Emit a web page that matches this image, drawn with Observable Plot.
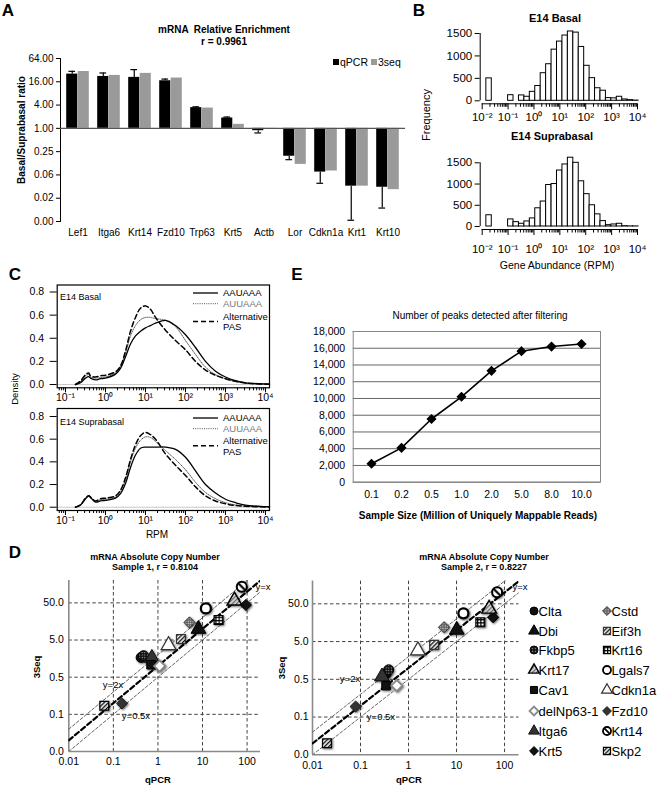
<!DOCTYPE html>
<html><head><meta charset="utf-8">
<script src="https://cdn.jsdelivr.net/npm/d3@7"></script>
<script src="https://cdn.jsdelivr.net/npm/@observablehq/plot@0.6"></script>
<style>
body{margin:0;background:#fff;}
#root{position:relative;width:670px;height:787px;overflow:hidden;font-family:"Liberation Sans",Arial,Helvetica,sans-serif;color:#000;background:#fff;}
.panel{position:absolute;}
.panel svg{display:block;}
.t{position:absolute;white-space:pre;transform:translate(-50%,-50%);line-height:1;}
.l{position:absolute;white-space:pre;transform:translate(0,-50%);line-height:1;}
.rot{position:absolute;white-space:pre;transform:translate(-50%,-50%) rotate(-90deg);line-height:1;}
</style></head><body>
<div id="root">
<svg width="0" height="0" style="position:absolute;left:0;top:0">
<defs>
<pattern id="hatch" width="3" height="3" patternUnits="userSpaceOnUse" patternTransform="rotate(45)"><rect width="3" height="3" fill="#fff"/><rect width="1.4" height="3" fill="#111"/></pattern>
<pattern id="hatchG" width="3" height="3" patternUnits="userSpaceOnUse" patternTransform="rotate(45)"><rect width="3" height="3" fill="#ddd"/><rect width="1.3" height="3" fill="#666"/></pattern>
<pattern id="grid" width="3.2" height="3.2" patternUnits="userSpaceOnUse"><rect width="3.2" height="3.2" fill="#fff"/><path d="M0 0.6H3.2M0.6 0V3.2" stroke="#000" stroke-width="1.2"/></pattern>
<pattern id="dots" width="2.6" height="2.6" patternUnits="userSpaceOnUse"><rect width="2.6" height="2.6" fill="#111"/><circle cx="1.3" cy="1.3" r="0.6" fill="#bbb"/></pattern>
<pattern id="dotsG" width="2.4" height="2.4" patternUnits="userSpaceOnUse"><rect width="2.4" height="2.4" fill="#666"/><circle cx="1.2" cy="1.2" r="0.6" fill="#eee"/></pattern>
<pattern id="slash" patternUnits="objectBoundingBox" patternContentUnits="objectBoundingBox" width="1" height="1"><rect width="1" height="1" fill="#fff"/><path d="M0.15 0.15L0.85 0.85" stroke="#000" stroke-width="0.22"/></pattern>
</defs></svg>
</div>
<script>
// ================= DATA =================
// Panel A: mRNA relative enrichment (Basal/Suprabasal ratio)
const genesA = ["Lef1","Itga6","Krt14","Fzd10","Trp63","Krt5","Actb","Lor","Cdkn1a","Krt1","Krt10"];
const qpcrA  = [25.3, 22, 20.8, 17, 3.43, 1.85, 0.87, 0.19, 0.074, 0.032, 0.030];
const seqA   = [29.5, 23.4, 26.4, 20, 3.35, 1.27, 0.94, 0.117, 0.079, 0.032, 0.026];
const qpcrErrEndA = [29.8, 27, 33, 18.8, 3.6, 1.96, 0.76, 0.155, 0.038, 0.0042, 0.0087];
const ticksA = [64, 16, 4, 1, 0.25, 0.0625, 0.015625, 0.00390625];

// Panel B: histograms of gene abundance (log10 RPM bin lower edges)
const binLo = [-1.84,-1.63,-1.42,-1.21,-1.00,-0.79,-0.58,-0.37,-0.16,0.05,0.26,0.47,0.68,0.89,1.10,1.31,1.52,1.73,1.94,2.15,2.36,2.57,2.78,2.99,3.20,3.41,3.62,3.83];
const binWidth = 0.21;
const basalCounts = [500,0,0,0,125,0,120,90,200,330,615,815,1140,1320,1455,1545,1520,1200,780,505,280,225,60,55,90,30,15,5];
const supraCounts = [265,0,0,0,167,103,64,119,190,429,588,977,1000,1318,1461,1620,1500,1064,762,500,286,127,32,48,64,8,3,2];
const decadesB = [0.01,0.1,1,10,100,1000,10000];
const yTicksB = [0,500,1000,1500];

// Panel C: density of RPM by PAS type (x as log10 RPM)
const logRPM = [-0.75,-0.625,-0.5,-0.42,-0.375,-0.25,-0.125,0,0.25,0.375,0.5,0.625,0.75,0.875,1.0,1.125,1.25,1.5,1.75,2.0,2.25,2.5,2.75,3.0,3.25,3.5,4.0,4.1];
const basalAAUAAA = [0,0.015,0.055,0.068,0.055,0.04,0.05,0.055,0.09,0.14,0.24,0.35,0.42,0.46,0.49,0.51,0.53,0.555,0.51,0.43,0.32,0.2,0.115,0.065,0.033,0.015,0.004,0.003];
const basalAUUAAA = [0,0.025,0.075,0.085,0.065,0.055,0.06,0.065,0.1,0.16,0.27,0.42,0.51,0.56,0.58,0.58,0.57,0.555,0.5,0.38,0.26,0.15,0.085,0.05,0.025,0.012,0.003,0.002];
const basalAltPAS  = [0,0.03,0.085,0.1,0.075,0.065,0.075,0.08,0.11,0.16,0.29,0.46,0.58,0.66,0.68,0.65,0.58,0.47,0.38,0.3,0.2,0.125,0.08,0.05,0.028,0.014,0.004,0.003];
const supraAAUAAA = [0,0.02,0.075,0.1,0.085,0.045,0.055,0.06,0.08,0.12,0.21,0.35,0.46,0.52,0.53,0.53,0.53,0.53,0.51,0.44,0.32,0.2,0.125,0.07,0.04,0.018,0.005,0.004];
const supraAUUAAA = [0,0.02,0.08,0.1,0.09,0.05,0.065,0.07,0.09,0.14,0.24,0.4,0.52,0.59,0.62,0.615,0.58,0.5,0.42,0.33,0.22,0.13,0.075,0.04,0.02,0.01,0.003,0.002];
const supraAltPAS  = [0,0.02,0.08,0.1,0.09,0.055,0.075,0.08,0.1,0.15,0.26,0.42,0.55,0.63,0.66,0.64,0.6,0.47,0.37,0.28,0.18,0.1,0.055,0.03,0.015,0.008,0.002,0.002];
const decadesC = [0.1,1,10,100,1000,10000];
const yTicksC = [0,0.2,0.4,0.6,0.8];

// Panel E: peaks detected vs sample size
const sampleSize = ["0.1","0.2","0.5","1.0","2.0","5.0","8.0","10.0"];
const peaks = [2200,4100,7550,10200,13300,15650,16200,16500];
const yTicksE = [0,2000,4000,6000,8000,10000,12000,14000,16000,18000];

// Panel D: absolute copy number, qPCR vs 3Seq
const genesD = ["Clta","Dbi","Fkbp5","Krt17","Cav1","delNp63-1","Itga6","Krt5","Cstd","Eif3h","Krt16","Lgals7","Cdkn1a","Fzd10","Krt14","Skp2"];
const s1qPCR = [0.42,8.1,0.475,52,0.70,1.09,0.73,94,5.1,3.28,22.9,11.9,1.73,0.156,76,0.0625];
const s1Seq  = [1.7,9.9,1.89,57,1.08,1.0,1.64,44,14.9,5.3,17.3,35.5,3.6,0.098,136,0.085];
const s2qPCR = [0.34,10.1,0.385,47.6,0.34,0.57,0.28,57.8,5.5,3.41,31.3,13.9,1.57,0.079,70,0.020];
const s2Seq  = [0.70,10.2,0.89,36.7,0.34,0.34,0.59,22,12.0,4.09,16.2,28,2.89,0.095,101,0.0101];
const xTicksD = [0.01,0.1,1,10,100];
const yTicksD = [0.005,0.05,0.5,5,50];
const refSlopes = [2,1,0.5];

// ================= HELPERS =================
const root = document.getElementById("root");
const FONT = '"Liberation Sans", Arial, Helvetica, sans-serif';
const st = fs => ({fontFamily: FONT, fontSize: fs, background: "transparent", overflow: "visible", color: "#000", maxWidth: "none"});
function place(svg, left, top, w) {
  const d = document.createElement("div");
  d.className = "panel";
  d.style.left = left + "px"; d.style.top = top + "px"; d.style.width = w + "px";
  d.appendChild(svg); root.appendChild(d); return svg;
}
function label(text, x, y, o = {}) {
  const d = document.createElement("div");
  d.className = o.cls || "t";
  d.textContent = text;
  d.style.left = x + "px"; d.style.top = y + "px";
  d.style.fontSize = (o.size || 10) + "px";
  if (o.bold) d.style.fontWeight = "bold";
  if (o.color) d.style.color = o.color;
  root.appendChild(d);
  return d;
}
const supMap = {"-":"⁻","0":"⁰","1":"¹","2":"²","3":"³","4":"⁴"};
const supFmt = d => "10" + String(Math.round(Math.log10(d))).split("").map(c => supMap[c]).join("");
function minorTicks(lo, hi, dmin, dmax) {
  const out = [];
  for (let k = lo; k < hi; k++) for (let m = 2; m <= 9; m++) { const v = m * 10 ** k; if (v > dmin && v < dmax) out.push(v); }
  return out;
}

// ================= PANEL A =================
const rowsA = genesA.map((g, i) => ({gene: g, qpcr: qpcrA[i], seq: seqA[i], err: qpcrErrEndA[i]}));
place(Plot.plot({
  width: 420, height: 245, marginLeft: 60, marginRight: 15, marginTop: 58, marginBottom: 24,
  style: st("10px"),
  x: {type: "band", domain: genesA, padding: 0, label: null, tickSize: 0, tickPadding: 7},
  y: {type: "log", base: 2, domain: [ticksA[ticksA.length - 1], ticksA[0]], ticks: ticksA, tickFormat: d3.format(".2f"), label: null, line: true, tickSize: 4, tickPadding: 3},
  marks: [
    Plot.barY(rowsA, {x: "gene", y1: 1, y2: "qpcr", fill: "#000", insetLeft: 4.2, insetRight: 15.7}),
    Plot.barY(rowsA, {x: "gene", y1: 1, y2: "seq", fill: "#9a9a9a", insetLeft: 15.7, insetRight: 4.2}),
    Plot.ruleX(rowsA, {x: "gene", y1: "qpcr", y2: "err", dx: -5.75, stroke: "#000", strokeWidth: 1.2}),
    Plot.tickY(rowsA, {x: "gene", y: "err", insetLeft: 6.4, insetRight: 17.9, stroke: "#000", strokeWidth: 1.2}),
    Plot.ruleY([1], {stroke: "#555", strokeWidth: 1.2})
  ]
}), 0, 0, 420);
label("A", 8, 10, {size: 17, bold: true});
label("mRNA  Relative Enrichment", 224, 30, {size: 10, bold: true});
label("r = 0.9961", 224, 42, {size: 10, bold: true});
{
  const lg = document.createElement("div");
  lg.style.cssText = "position:absolute;left:333px;top:56px;font-size:10.5px;line-height:12px;white-space:nowrap;";
  lg.innerHTML = '<span style="display:inline-block;width:6px;height:6px;background:#000;margin-right:1px;vertical-align:1px"></span>qPCR<span style="display:inline-block;width:6px;height:6px;background:#9a9a9a;margin:0 1px 0 3px;vertical-align:1px"></span>3seq';
  root.appendChild(lg);
}
label("Basal/Suprabasal ratio", 22, 130, {cls: "rot", size: 10, bold: true});

// ================= PANEL B =================
const minorB = minorTicks(-2, 4, 0.01, 10000);
function hist(counts, H, mTop, mBottom, pad) {
  const rows = binLo.map((lo, i) => ({x1: 10 ** lo, x2: 10 ** (lo + binWidth), n: counts[i]}));
  return Plot.plot({
    width: 250, height: H, marginLeft: 59.7, marginRight: 33, marginTop: mTop, marginBottom: mBottom,
    style: st("11.5px"),
    x: {type: "log", domain: [0.01, 10000], insetLeft: 2, ticks: decadesB, tickFormat: supFmt, tickSize: 6, tickPadding: pad, label: null},
    y: {domain: [0, 1500], insetBottom: 3, ticks: yTicksB, tickFormat: d => String(d), tickSize: 5, tickPadding: 3, label: null},
    marks: [
      Plot.rectY(rows, {x1: "x1", x2: "x2", y1: 0, y2: "n", fill: "#fff", stroke: "#000", strokeWidth: 1}),
      Plot.ruleX([0.01], {y1: 0, y2: 1500, dx: -2, stroke: "#000"}),
      Plot.ruleY([0], {x1: 0.01, x2: 10000, dy: 3, stroke: "#000"}),
      Plot.ruleX(minorB, {y1: 0, y2: 0, dy: 3, insetBottom: -3.5, stroke: "#000"})
    ]
  });
}
place(hist(basalCounts, 125, 33, 21.7, 3), 420, 0, 250);
place(hist(supraCounts, 135, 37.3, 31, 9), 420, 125, 250);
label("B", 419, 10, {size: 17, bold: true});
label("E14 Basal", 555, 18, {size: 11, bold: true});
label("E14 Suprabasal", 552, 136, {size: 11, bold: true});
label("Frequency", 426, 115, {cls: "rot", size: 11});
label("Gene Abundance (RPM)", 557, 265, {size: 10.5});

// ================= PANEL C =================
const xDomC = [10 ** -1.2075, 10 ** 4.1];
const minorC = minorTicks(-2, 5, xDomC[0], xDomC[1]);
const curve = vals => logRPM.map((lx, i) => ({x: 10 ** lx, y: vals[i]}));
function density(a, b, c, H, mTop, mBottom, yDom) {
  return Plot.plot({
    width: 270, height: H, marginLeft: 56.7, marginRight: 1, marginTop: mTop, marginBottom: mBottom,
    style: st("10.5px"),
    x: {type: "log", domain: xDomC, ticks: decadesC, tickFormat: supFmt, tickSize: 5, tickPadding: 1, label: null},
    y: {domain: yDom, ticks: yTicksC, tickFormat: d3.format(".1f"), tickSize: 7, tickPadding: 6, label: null},
    marks: [
      Plot.ruleY([0], {stroke: "#c8c8c8"}),
      Plot.ruleX(minorC, {y1: yDom[0], y2: yDom[0], insetBottom: -3, stroke: "#000"}),
      Plot.line(curve(b), {x: "x", y: "y", curve: "catmull-rom", stroke: "#555", strokeWidth: 1, strokeDasharray: "1,1.2"}),
      Plot.line(curve(c), {x: "x", y: "y", curve: "catmull-rom", stroke: "#000", strokeWidth: 1.5, strokeDasharray: "5,3"}),
      Plot.line(curve(a), {x: "x", y: "y", curve: "catmull-rom", stroke: "#000", strokeWidth: 1.3}),
      Plot.frame({stroke: "#000", strokeWidth: 1.2})
    ]
  });
}
place(density(basalAAUAAA, basalAUUAAA, basalAltPAS, 125, 4.5, 17.7, [-0.0285, 0.8606]), 0, 280, 270);
place(density(supraAAUAAA, supraAUUAAA, supraAltPAS, 140, 3, 35, [-0.029, 0.8705]), 0, 405, 270);
label("C", 15, 274, {size: 17, bold: true});
label("E14 Basal", 60, 297, {cls: "l", size: 9});
label("E14 Suprabasal", 60, 421.5, {cls: "l", size: 9});
function legendC(y1, y2, y3a, y3b, yd) {
  const s = document.createElementNS("http://www.w3.org/2000/svg", "svg");
  s.setAttribute("width", 30); s.setAttribute("height", 60);
  s.style.cssText = `position:absolute;left:190px;top:${y1 - 5}px;overflow:visible`;
  s.innerHTML = `<line x1="3" x2="28" y1="5" y2="5" stroke="#000" stroke-width="1.3"/>
    <line x1="3" x2="28" y1="${y2 - y1 + 5}" y2="${y2 - y1 + 5}" stroke="#555" stroke-width="1" stroke-dasharray="1,1.2"/>
    <line x1="3" x2="28" y1="${yd - y1 + 5}" y2="${yd - y1 + 5}" stroke="#000" stroke-width="1.5" stroke-dasharray="5,3"/>`;
  root.appendChild(s);
  label("AAUAAA", 223, y1, {cls: "l", size: 9.5});
  label("AUUAAA", 223, y2, {cls: "l", size: 9.5, color: "#777"});
  label("Alternative", 223, y3a, {cls: "l", size: 9.5});
  label("PAS", 223, y3b, {cls: "l", size: 9.5});
}
legendC(293.3, 304, 316.8, 327, 321.7);
legendC(418.3, 429, 441, 451.5, 446);
label("Density", 15, 389, {cls: "rot", size: 9.5});
label("RPM", 157, 535, {size: 10});

// ================= PANEL E =================
const rowsE = sampleSize.map((s, i) => ({size: s, peaks: peaks[i]}));
place(Plot.plot({
  width: 400, height: 250, marginLeft: 82.7, marginRight: 70, marginTop: 51, marginBottom: 48.3,
  style: st("10.5px"),
  x: {type: "band", domain: sampleSize, padding: 0, tickSize: 0, tickPadding: 8, label: null},
  y: {domain: [0, 18000], ticks: yTicksE, tickFormat: d3.format(","), tickSize: 0, tickPadding: 8, label: null},
  marks: [
    Plot.ruleY(yTicksE, {stroke: "#666", strokeWidth: 1}),
    Plot.frame({stroke: "#888", strokeWidth: 1}),
    Plot.line(rowsE, {x: "size", y: "peaks", stroke: "#000", strokeWidth: 1.6}),
    Plot.dot(rowsE, {x: "size", y: "peaks", symbol: "diamond2", fill: "#000", stroke: "#000", r: 3.6})
  ]
}), 270, 280, 400);
label("E", 297, 273.5, {size: 17, bold: true});
label("Number of peaks detected after filtering", 480, 316, {size: 10});
label("Sample Size (Million of Uniquely Mappable Reads)", 478, 516, {size: 10, bold: true});

// ================= PANEL D =================
const styleD = {
  "Clta":      {symbol: "circle",   fill: "#111", stroke: "#000", sw: 1, r: 5},
  "Dbi":       {symbol: "triangle", fill: "#111", stroke: "#000", sw: 1, r: 5.5},
  "Fkbp5":     {symbol: "circle",   fill: "url(#dots)", stroke: "#000", sw: 1, r: 5},
  "Krt17":     {symbol: "triangle", fill: "url(#hatchG)", stroke: "#000", sw: 1.4, r: 5.5},
  "Cav1":      {symbol: "square",   fill: "#111", stroke: "#000", sw: 1, r: 4.8},
  "delNp63-1": {symbol: "diamond2", fill: "#fff", stroke: "#888", sw: 1.8, r: 5},
  "Itga6":     {symbol: "triangle", fill: "#333", stroke: "#111", sw: 1, r: 5.5},
  "Krt5":      {symbol: "diamond2", fill: "#111", stroke: "#000", sw: 1, r: 5},
  "Cstd":      {symbol: "diamond2", fill: "url(#dotsG)", stroke: "#333", sw: 1, r: 5},
  "Eif3h":     {symbol: "square",   fill: "url(#hatch)", stroke: "#333", sw: 1.2, r: 5},
  "Krt16":     {symbol: "square",   fill: "url(#grid)", stroke: "#000", sw: 1.2, r: 5},
  "Lgals7":    {symbol: "circle",   fill: "#fff", stroke: "#000", sw: 2.3, r: 5},
  "Cdkn1a":    {symbol: "triangle", fill: "#fff", stroke: "#333", sw: 1.2, r: 5.5},
  "Fzd10":     {symbol: "diamond2", fill: "#333", stroke: "#222", sw: 1, r: 5},
  "Krt14":     {symbol: "circle",   fill: "url(#slash)", stroke: "#000", sw: 2, r: 5},
  "Skp2":      {symbol: "square",   fill: "url(#hatch)", stroke: "#000", sw: 1.2, r: 5}
};
const drawOrder = ["Skp2","Fzd10","Clta","Fkbp5","Itga6","Dbi","Cav1","Krt5","delNp63-1","Cdkn1a","Eif3h","Cstd","Krt16","Lgals7","Krt17","Krt14"];
const fmtD = d3.format(".1f");
function scatter(qp, sq, W, H, mL, mR, mT, mB, xPad, yPad) {
  const rows = genesD.map((g, i) => ({gene: g, q: qp[i], s: sq[i]}));
  const refRows = refSlopes.flatMap(k => [0.01, 200].map(x => ({k, x, y: k * x})));
  const dots = drawOrder.map(g => {
    const s = styleD[g];
    return Plot.dot(rows.filter(r => r.gene === g), {x: "q", y: "s", symbol: s.symbol, fill: s.fill, stroke: s.stroke, strokeWidth: s.sw, r: s.r});
  });
  const svg = Plot.plot({
    width: W, height: H, marginLeft: mL, marginRight: mR, marginTop: mT, marginBottom: mB,
    style: st("10.5px"),
    x: {type: "log", domain: [0.01, 200], ticks: xTicksD, tickFormat: d => String(d), tickSize: 0, tickPadding: xPad, label: null},
    y: {type: "log", domain: [0.005, 200], axis: null},
    marks: [
      Plot.ruleX(xTicksD.slice(1), {stroke: "#444", strokeDasharray: "3.5,2.5", strokeWidth: 1}),
      Plot.ruleY(yTicksD.slice(1), {stroke: "#444", strokeDasharray: "3.5,2.5", strokeWidth: 1}),
      Plot.ruleX([0.01], {stroke: "#8a8a8a", strokeWidth: 1.6}),
      Plot.ruleY([0.005], {stroke: "#8a8a8a", strokeWidth: 1.6}),
      Plot.text(yTicksD, {y: d => d, text: d => fmtD(d), frameAnchor: "left", textAnchor: "end", dx: -yPad, fontSize: 10.5}),
      Plot.line(refRows.filter(d => d.k !== 1), {x: "x", y: "y", z: "k", stroke: "#666", strokeWidth: 1, strokeDasharray: "3,2", clip: true}),
      Plot.line(refRows.filter(d => d.k === 1), {x: "x", y: "y", stroke: "#000", strokeWidth: 2.2, strokeDasharray: "5,3", clip: true}),
      ...dots
    ]
  });
  svg.querySelectorAll('g[aria-label="dot"]').forEach(g => { g.style.filter = "drop-shadow(1.5px 1.5px 1.2px rgba(0,0,0,0.6))"; });
  return svg;
}
place(scatter(s1qPCR, s1Seq, 300, 217, 68.3, 40, 10, 36, 6, 5), 0, 570, 300);
place(scatter(s2qPCR, s2Seq, 260, 217, 42, 11.5, 10.6, 32.7, 7, 4), 270, 570, 260);
label("D", 15, 552, {size: 17, bold: true});
label("mRNA Absolute Copy Number", 155, 557, {size: 9, bold: true});
label("Sample 1, r = 0.8104", 155, 566.5, {size: 9, bold: true});
label("mRNA Absolute Copy Number", 484, 557, {size: 9, bold: true});
label("Sample 2, r = 0.8227", 484, 566.5, {size: 9, bold: true});
label("3Seq", 37, 667, {cls: "rot", size: 9.5, bold: true});
label("3Seq", 282, 668, {cls: "rot", size: 9.5, bold: true});
label("qPCR", 158, 780, {size: 9.5, bold: true});
label("qPCR", 409, 780, {size: 9.5, bold: true});
label("y=x", 263, 587, {size: 9.5});
label("y=2x", 113, 685, {size: 9.5});
label("y=0.5x", 136, 716, {size: 9.5});
label("y=x", 520, 587, {size: 9.5});
label("y=2x", 350, 679, {size: 9.5});
label("y=0.5x", 381, 717, {size: 9.5});
// legend for D
const symMap = {circle: d3.symbolCircle, triangle: d3.symbolTriangle, diamond2: d3.symbolDiamond2, square: d3.symbolSquare};
const legRowsY = [610.7, 630.7, 650.3, 670.3, 690.3, 710.5, 730.5, 750.5];
genesD.forEach((g, i) => {
  const col = i < 8 ? 0 : 1, row = i % 8;
  const cx = col === 0 ? 533.5 : 606.5, tx = col === 0 ? 538.5 : 611.5, y = legRowsY[row];
  const s = styleD[g];
  const svg = document.createElementNS("http://www.w3.org/2000/svg", "svg");
  svg.setAttribute("width", 14); svg.setAttribute("height", 14);
  svg.style.cssText = `position:absolute;left:${cx - 7}px;top:${y - 7}px;overflow:visible`;
  const p = document.createElementNS("http://www.w3.org/2000/svg", "path");
  p.setAttribute("d", d3.symbol(symMap[s.symbol], Math.PI * 4 * 4)());
  p.setAttribute("transform", "translate(7,7)");
  p.setAttribute("fill", s.fill); p.setAttribute("stroke", s.stroke); p.setAttribute("stroke-width", Math.min(s.sw, 1.8));
  svg.appendChild(p); root.appendChild(svg);
  label(g, tx, y, {cls: "l", size: 13});
});
</script>
</body></html>
